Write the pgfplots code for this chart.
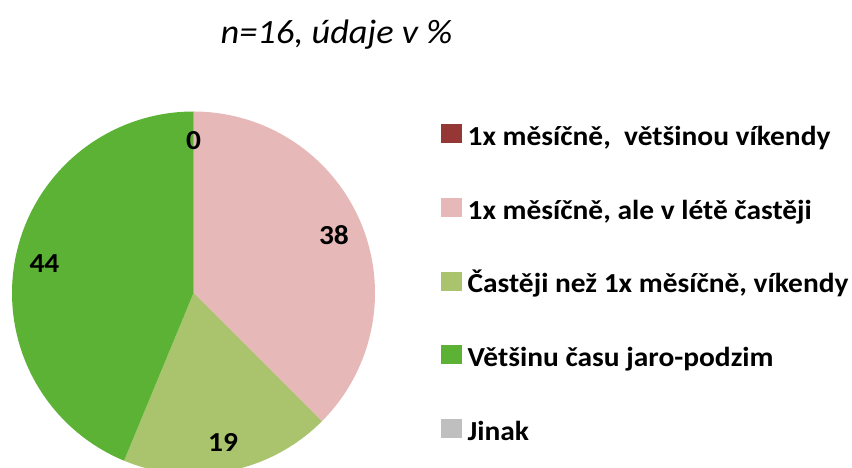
\documentclass[border=0pt]{standalone}
\usepackage{fontspec}
\setmainfont{Carlito}
\newfontfamily\legfont[FakeStretch=1.07]{Carlito}
\usepackage{pgfplots}
\pgfplotsset{compat=1.18}
\definecolor{cA}{HTML}{953735}
\definecolor{cB}{HTML}{E6B9B8}
\definecolor{cC}{HTML}{A9C46C}
\definecolor{cD}{HTML}{5CB234}
\definecolor{cE}{HTML}{BFBFBF}
% values in percent (n=16)
\def\vA{0}
\def\vB{37.5}
\def\vC{18.75}
\def\vD{43.75}
\def\vE{0}
\def\cx{193.5}
\def\cy{175}
\def\R{181.5}
\def\Rl{152}
\begin{document}
\begin{tikzpicture}
\pgfmathsetmacro{\aA}{90-3.6*\vA}
\pgfmathsetmacro{\aB}{\aA-3.6*\vB}
\pgfmathsetmacro{\aC}{\aB-3.6*\vC}
\pgfmathsetmacro{\aD}{\aC-3.6*\vD}
\pgfmathsetmacro{\mA}{90-1.8*\vA}
\pgfmathsetmacro{\mB}{(\aA+\aB)/2}
\pgfmathsetmacro{\mC}{(\aB+\aC)/2}
\pgfmathsetmacro{\mD}{(\aC+\aD)/2}
\useasboundingbox (0,0) rectangle (852pt,468pt);
\begin{axis}[
  at={(0,0)}, anchor=south west,
  width=852pt, height=468pt, scale only axis,
  xmin=0, xmax=852, ymin=0, ymax=468,
  hide axis, clip=true,
  legend style={at={(axis cs:441,344)}, anchor=north west, draw=none, fill=none,
    inner sep=0pt, row sep=46.5pt, font=\legfont\bfseries\fontsize{27.5}{30}\selectfont,
    nodes={inner sep=0pt, text height=18pt, text depth=6pt, anchor=west}},
  legend cell align=left,
  legend image code/.code={\fill[#1] (0pt,-3pt) rectangle (20pt,15pt);},
  legend columns=1,
]
\addlegendimage{cA}
\addlegendentry{\hspace{6pt}1x měsíčně,\ \ většinou víkendy}
\addlegendimage{cB}
\addlegendentry{\hspace{6pt}1x měsíčně, ale v létě častěji}
\addlegendimage{cC}
\addlegendentry{\hspace{6pt}Častěji než 1x měsíčně, víkendy}
\addlegendimage{cD}
\addlegendentry{\hspace{6pt}Většinu času jaro-podzim}
\addlegendimage{cE}
\addlegendentry{\hspace{6pt}Jinak}

\addplot[forget plot, fill=cB, draw=none, domain=\aB:\aA, samples=80, variable=\t]
  ({\cx+\R*cos(\t)},{\cy+\R*sin(\t)}) -- (axis cs:\cx,\cy) -- cycle;
\addplot[forget plot, fill=cC, draw=none, domain=\aC:\aB, samples=60, variable=\t]
  ({\cx+\R*cos(\t)},{\cy+\R*sin(\t)}) -- (axis cs:\cx,\cy) -- cycle;
\addplot[forget plot, fill=cD, draw=none, domain=\aD:\aC, samples=100, variable=\t]
  ({\cx+\R*cos(\t)},{\cy+\R*sin(\t)}) -- (axis cs:\cx,\cy) -- cycle;

\node[font=\legfont\bfseries\fontsize{27.5}{30}\selectfont] at (axis cs:{\cx+\Rl*cos(\mA)},{\cy+\Rl*sin(\mA)}) {0};
\node[font=\legfont\bfseries\fontsize{27.5}{30}\selectfont] at (axis cs:{\cx+\Rl*cos(\mB)},{\cy+\Rl*sin(\mB)}) {38};
\node[font=\legfont\bfseries\fontsize{27.5}{30}\selectfont] at (axis cs:{\cx+\Rl*cos(\mC)},{\cy+\Rl*sin(\mC)}) {19};
\node[font=\legfont\bfseries\fontsize{27.5}{30}\selectfont] at (axis cs:{\cx+\Rl*cos(\mD)},{\cy+\Rl*sin(\mD)}) {44};
\end{axis}
\node[anchor=base, font=\legfont\itshape\fontsize{34}{38}\selectfont] at (336.5pt,424pt) {n=16, údaje v \%};
\end{tikzpicture}
\end{document}
